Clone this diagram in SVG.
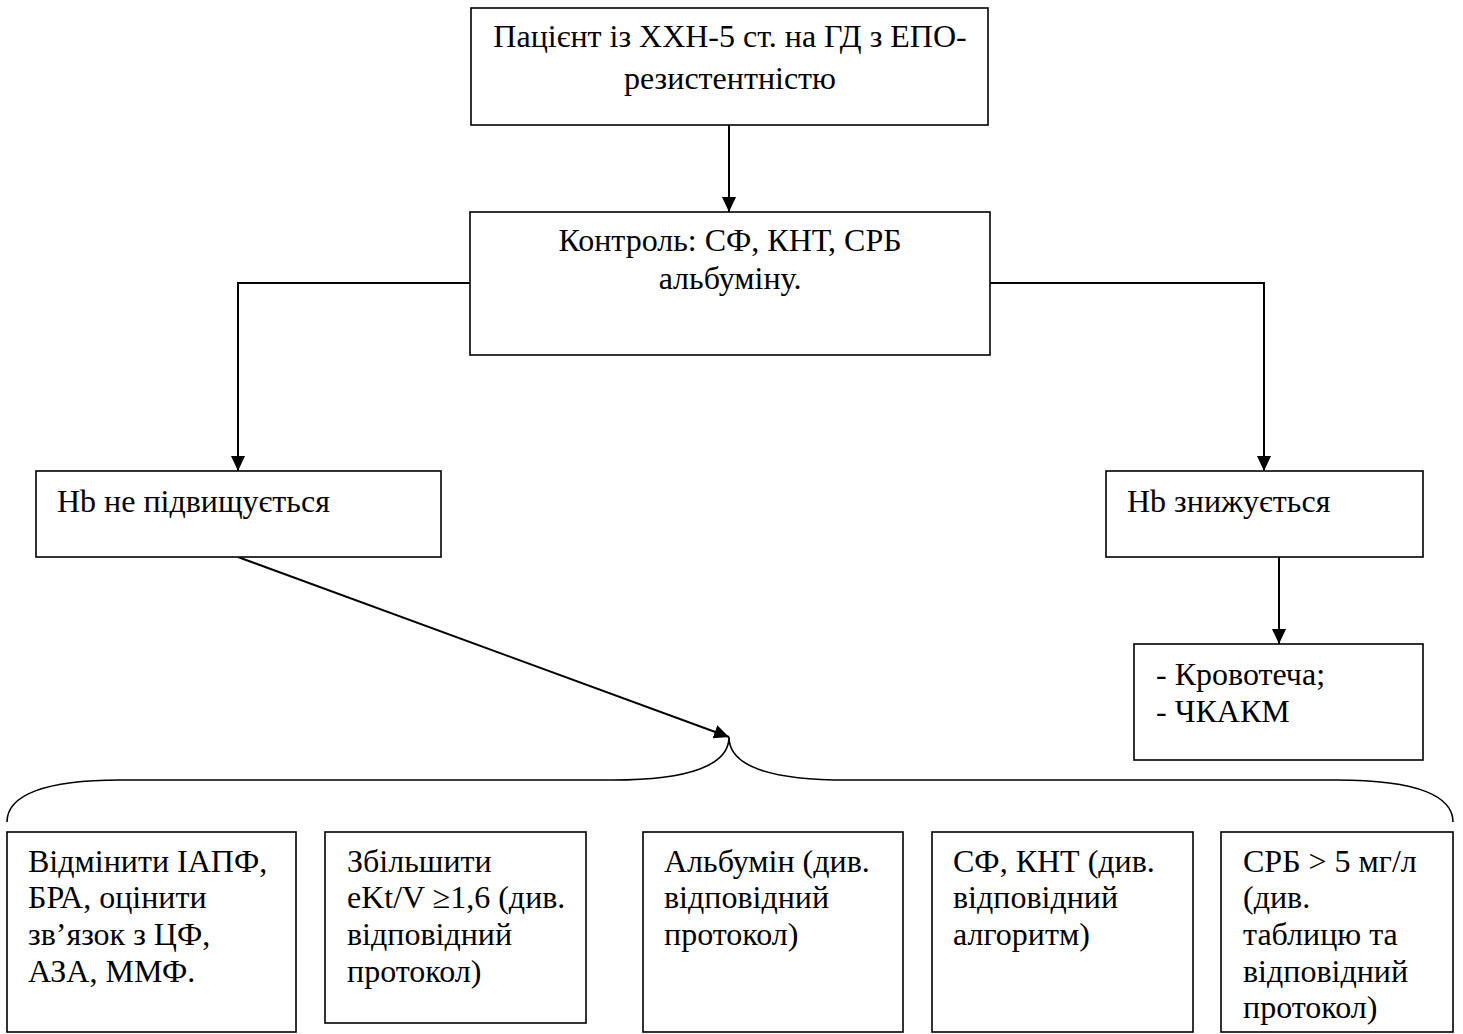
<svg xmlns="http://www.w3.org/2000/svg" width="1463" height="1034" viewBox="0 0 1463 1034">
<defs>
<style>
.box{fill:#fff;stroke:#000;stroke-width:1.6}
.t{font-family:"Liberation Serif","Times New Roman",serif;font-size:32px;fill:#000}
.c{text-anchor:middle}
.con{fill:none;stroke:#000;stroke-width:2}
</style>
<marker id="ah" markerUnits="userSpaceOnUse" markerWidth="15" markerHeight="14" refX="15" refY="7" orient="auto" viewBox="0 0 15 14">
<path d="M0,0 L15,7 L0,14 z" fill="#000"/>
</marker>
</defs>
<rect width="1463" height="1034" fill="#fff"/>
<g id="connectors">
<line class="con" x1="729" y1="125" x2="729" y2="212" marker-end="url(#ah)"/>
<polyline class="con" points="470,283 238,283 238,471" marker-end="url(#ah)"/>
<polyline class="con" points="990,283 1264,283 1264,471" marker-end="url(#ah)"/>
<line class="con" x1="1279" y1="557" x2="1279" y2="644" marker-end="url(#ah)"/>
<line class="con" x1="238" y1="557" x2="729" y2="737" marker-end="url(#ah)"/>
<path class="con" style="stroke-width:1.6" d="M7,822 C7,795 45,780 120,780 L613,780 C690,780 729,765 729,737 C729,765 768,780 847,780 L1337,780 C1420,780 1453,797 1453,822"/>
</g>
<g id="n-top">
<rect class="box" x="471" y="8" width="517" height="117"/>
<text class="t c" x="730" y="47">Пацієнт із ХХН-5 ст. на ГД з ЕПО-</text>
<text class="t c" x="730" y="89">резистентністю</text>
</g>
<g id="n-control">
<rect class="box" x="470" y="212" width="520" height="143"/>
<text class="t c" x="730" y="251">Контроль: СФ, КНТ, СРБ</text>
<text class="t c" x="730" y="289">альбуміну.</text>
</g>
<g id="n-hb-no">
<rect class="box" x="36" y="471" width="405" height="86"/>
<text class="t" x="57" y="512">Hb не підвищується</text>
</g>
<g id="n-hb-down">
<rect class="box" x="1106" y="471" width="317" height="86"/>
<text class="t" x="1127" y="512">Hb знижується</text>
</g>
<g id="n-bleed">
<rect class="box" x="1134" y="644" width="289" height="116"/>
<text class="t" x="1156" y="685">- Кровотеча;</text>
<text class="t" x="1156" y="722">- ЧКАКМ</text>
</g>
<g id="n-b1">
<rect class="box" x="7" y="832" width="289" height="200"/>
<text class="t" x="28" y="872">Відмінити ІАПФ,</text>
<text class="t" x="28" y="908">БРА, оцінити</text>
<text class="t" x="28" y="945">зв’язок з ЦФ,</text>
<text class="t" x="28" y="982">АЗА, ММФ.</text>
</g>
<g id="n-b2">
<rect class="box" x="325" y="832" width="261" height="191"/>
<text class="t" x="347" y="872">Збільшити</text>
<text class="t" x="347" y="908">eKt/V ≥1,6 (див.</text>
<text class="t" x="347" y="945">відповідний</text>
<text class="t" x="347" y="982">протокол)</text>
</g>
<g id="n-b3">
<rect class="box" x="643" y="832" width="260" height="200"/>
<text class="t" x="664" y="872">Альбумін (див.</text>
<text class="t" x="664" y="908">відповідний</text>
<text class="t" x="664" y="945">протокол)</text>
</g>
<g id="n-b4">
<rect class="box" x="932" y="832" width="261" height="200"/>
<text class="t" x="953" y="872">СФ, КНТ (див.</text>
<text class="t" x="953" y="908">відповідний</text>
<text class="t" x="953" y="945">алгоритм)</text>
</g>
<g id="n-b5">
<rect class="box" x="1221" y="832" width="232" height="200"/>
<text class="t" x="1243" y="872">СРБ &gt; 5 мг/л</text>
<text class="t" x="1243" y="908">(див.</text>
<text class="t" x="1243" y="945">таблицю та</text>
<text class="t" x="1243" y="982">відповідний</text>
<text class="t" x="1243" y="1018">протокол)</text>
</g>
</svg>
